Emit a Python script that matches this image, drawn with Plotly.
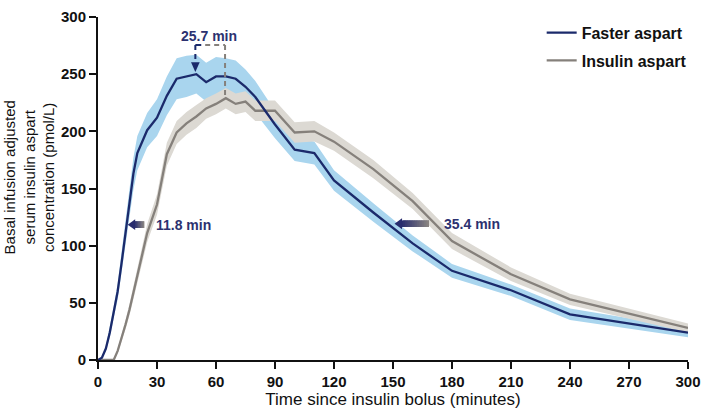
import plotly.graph_objects as go

# ---------------- data ----------------
TIME_FA = [0, 2, 4, 6, 8, 10, 12, 14, 16, 18, 20, 25, 30, 35, 40, 45, 50, 55, 60, 65, 70,
           75, 80, 90, 100, 110, 120, 140, 160, 180, 210, 240, 300]
FASTER_ASPART = [0, 2, 10, 24, 42, 60, 85, 110, 137, 163, 181, 201, 212, 231, 246, 248, 250,
                 243, 248, 248, 246, 239, 230, 206, 184, 181, 157, 129, 102, 78, 61, 40, 24]
FASTER_SEM = [0, 1, 2, 4, 5, 7, 9, 11, 13, 14, 15, 15, 16, 17, 18, 18, 17, 17, 17, 16, 16,
              15, 14, 12, 10, 10, 9, 8, 7, 6, 5, 5, 4]

TIME_IA = [0, 2, 4, 6, 8, 10, 12, 14, 16, 18, 20, 25, 30, 35, 40, 45, 50, 55, 60, 65, 70,
           75, 80, 90, 100, 110, 120, 140, 160, 180, 210, 240, 300]
INSULIN_ASPART = [0, 0, 0, 0, 0, 8, 19, 31, 44, 59, 74, 111, 136, 180, 199, 207, 213, 220,
                  224, 229, 224, 226, 218, 218, 199, 200, 191, 167, 139, 104, 75, 53, 28]
INSULIN_SEM = [0, 0, 0, 0, 0, 2, 3, 4, 5, 6, 7, 8, 9, 10, 10, 10, 10, 9, 9, 9, 9, 9, 9, 9,
               9, 9, 8, 8, 7, 7, 6, 5, 4]

X_TICKS = [0, 30, 60, 90, 120, 150, 180, 210, 240, 270, 300]
Y_TICKS = [0, 50, 100, 150, 200, 250, 300]

SERIES_NAMES = ["Faster aspart", "Insulin aspart"]
X_TITLE = "Time since insulin bolus (minutes)"
Y_TITLE = "Basal infusion adjusted<br>serum insulin aspart<br>concentration (pmol/L)"

# annotation values
ONSET_LABEL = "11.8 min"
TMAX_LABEL = "25.7 min"
OFFSET_LABEL = "35.4 min"
ONSET_ARROW = dict(tip=15.1, tail=23.5, y=118.4, text_x=28.3)
OFFSET_ARROW = dict(tip=150.8, tail=168.3, y=119.2, text_x=175.0)
TMAX_FA_X = 49.5
TMAX_IA_X = 64.6
BRACKET_Y = 275.5
TMAX_ARROW_TIP = 252.0
TMAX_IA_Y = 230.0

# ---------------- styles ----------------
NAVY = "#1b2a6b"
NAVY_TEXT = "#2c3170"
BLUE_BAND = "#a9d5ee"
GRAY = "#85807b"
GRAY_BAND = "#dcd9d3"
ARROW_GRAY = (140, 135, 130)
ARROW_NAVY = (40, 44, 110)
FONT = "Liberation Sans, Arial, sans-serif"
AXIS_COLOR = "#111111"

fig = go.Figure()


def band(x, y, s, color):
    upper = [a + b for a, b in zip(y, s)]
    lower = [max(a - b, 0) for a, b in zip(y, s)]
    return go.Scatter(x=list(x) + list(x)[::-1], y=upper + lower[::-1], fill="toself",
                      fillcolor=color, line=dict(width=0), mode="lines",
                      hoverinfo="skip", showlegend=False)


fig.add_trace(band(TIME_FA, FASTER_ASPART, FASTER_SEM, BLUE_BAND))
fig.add_trace(band(TIME_IA, INSULIN_ASPART, INSULIN_SEM, GRAY_BAND))
fig.add_trace(go.Scatter(x=TIME_IA, y=INSULIN_ASPART, mode="lines", name=SERIES_NAMES[1],
                         line=dict(color=GRAY, width=2.3), legendrank=2, legendgroup="b"))
fig.add_trace(go.Scatter(x=TIME_FA, y=FASTER_ASPART, mode="lines", name=SERIES_NAMES[0],
                         line=dict(color=NAVY, width=2.3), legendrank=1, legendgroup="a"))

shapes = []


def lerp_color(c1, c2, t):
    return "rgb(%d,%d,%d)" % tuple(round(a + (b - a) * t) for a, b in zip(c1, c2))


def block_arrow(tip, tail, y, head_len=3.5, shaft_h=2.9, head_h=4.8, n=16):
    # gradient shaft from gray (tail) to navy (head)
    base = tip + head_len
    step = (tail - base) / n
    for i in range(n):
        x0 = base + i * step
        x1 = min(x0 + step * 2.0, tail)
        t = 1 - (i + 0.5) / n
        shapes.append(dict(type="rect", xref="x", yref="y", x0=x0, x1=x1,
                           y0=y - shaft_h, y1=y + shaft_h, line=dict(width=0),
                           fillcolor=lerp_color(ARROW_GRAY, ARROW_NAVY, t), layer="above"))
    shapes.append(dict(type="path", xref="x", yref="y",
                       path="M %f,%f L %f,%f L %f,%f Z" % (tip, y, base + 0.3, y + head_h, base + 0.3, y - head_h),
                       fillcolor=lerp_color(ARROW_GRAY, ARROW_NAVY, 1), line=dict(width=0), layer="above"))


block_arrow(ONSET_ARROW["tip"], ONSET_ARROW["tail"], ONSET_ARROW["y"])
block_arrow(OFFSET_ARROW["tip"], OFFSET_ARROW["tail"], OFFSET_ARROW["y"])

# tmax bracket
dash = "5px,4px"
shapes += [
    dict(type="line", xref="x", yref="y", x0=TMAX_FA_X, x1=TMAX_FA_X, y0=BRACKET_Y, y1=TMAX_ARROW_TIP + 8,
         line=dict(color=NAVY, width=2, dash=dash)),
    dict(type="line", xref="x", yref="y", x0=TMAX_FA_X, x1=TMAX_FA_X + 3, y0=BRACKET_Y, y1=BRACKET_Y,
         line=dict(color=NAVY, width=2)),
    dict(type="line", xref="x", yref="y", x0=TMAX_FA_X + 5, x1=TMAX_IA_X, y0=BRACKET_Y, y1=BRACKET_Y,
         line=dict(color=GRAY, width=2, dash=dash)),
    dict(type="line", xref="x", yref="y", x0=TMAX_IA_X, x1=TMAX_IA_X, y0=BRACKET_Y, y1=TMAX_IA_Y,
         line=dict(color=GRAY, width=2, dash=dash)),
    dict(type="path", xref="x", yref="y",
         path="M %f,%f L %f,%f L %f,%f Z" % (TMAX_FA_X, TMAX_ARROW_TIP, TMAX_FA_X - 2.2, TMAX_ARROW_TIP + 8.5,
                                             TMAX_FA_X + 2.2, TMAX_ARROW_TIP + 8.5),
         fillcolor=NAVY, line=dict(width=0)),
]

ann_font = dict(family=FONT, size=14, color=NAVY_TEXT, weight="bold")
annotations = [
    dict(x=ONSET_ARROW["text_x"], y=ONSET_ARROW["y"], xref="x", yref="y", text=ONSET_LABEL,
         showarrow=False, xanchor="left", yanchor="middle", font=ann_font),
    dict(x=OFFSET_ARROW["text_x"], y=OFFSET_ARROW["y"], xref="x", yref="y", text=OFFSET_LABEL,
         showarrow=False, xanchor="left", yanchor="middle", font=ann_font),
    dict(x=56.4, y=283, xref="x", yref="y", text=TMAX_LABEL,
         showarrow=False, xanchor="center", yanchor="middle", font=ann_font),
    dict(x=-0.1165, y=0.533, xref="paper", yref="paper", text=Y_TITLE, textangle=-90,
         showarrow=False, xanchor="center", yanchor="middle",
         font=dict(family=FONT, size=15, color=AXIS_COLOR)),
]

tickfont = dict(family=FONT, size=15, color=AXIS_COLOR, weight="bold")
fig.update_xaxes(range=[0, 300], tickvals=X_TICKS, showline=True, linecolor=AXIS_COLOR,
                 linewidth=2, ticks="outside", ticklen=7, tickwidth=2, tickcolor=AXIS_COLOR,
                 showgrid=False, zeroline=False, tickfont=tickfont,
                 title=dict(text=X_TITLE, standoff=4,
                            font=dict(family=FONT, size=17, color=AXIS_COLOR)))
fig.update_yaxes(range=[0, 300], tickvals=Y_TICKS, showline=True, linecolor=AXIS_COLOR,
                 linewidth=2, ticks="outside", ticklen=7, tickwidth=2, tickcolor=AXIS_COLOR,
                 showgrid=False, zeroline=False, tickfont=tickfont)

fig.update_layout(
    width=709, height=414,
    margin=dict(l=98, r=14, t=8, b=47),
    plot_bgcolor="white", paper_bgcolor="white",
    shapes=shapes, annotations=annotations,
    legend=dict(x=0.752, y=1.004, xanchor="left", yanchor="top", bgcolor="rgba(0,0,0,0)",
                font=dict(family=FONT, size=16, color=AXIS_COLOR, weight="bold"),
                tracegroupgap=4, traceorder="grouped"),
    showlegend=True,
)

fig.write_html("out.html", config={"displayModeBar": False},
               post_script="document.body.style.margin='0px';document.body.style.overflow='hidden';")
